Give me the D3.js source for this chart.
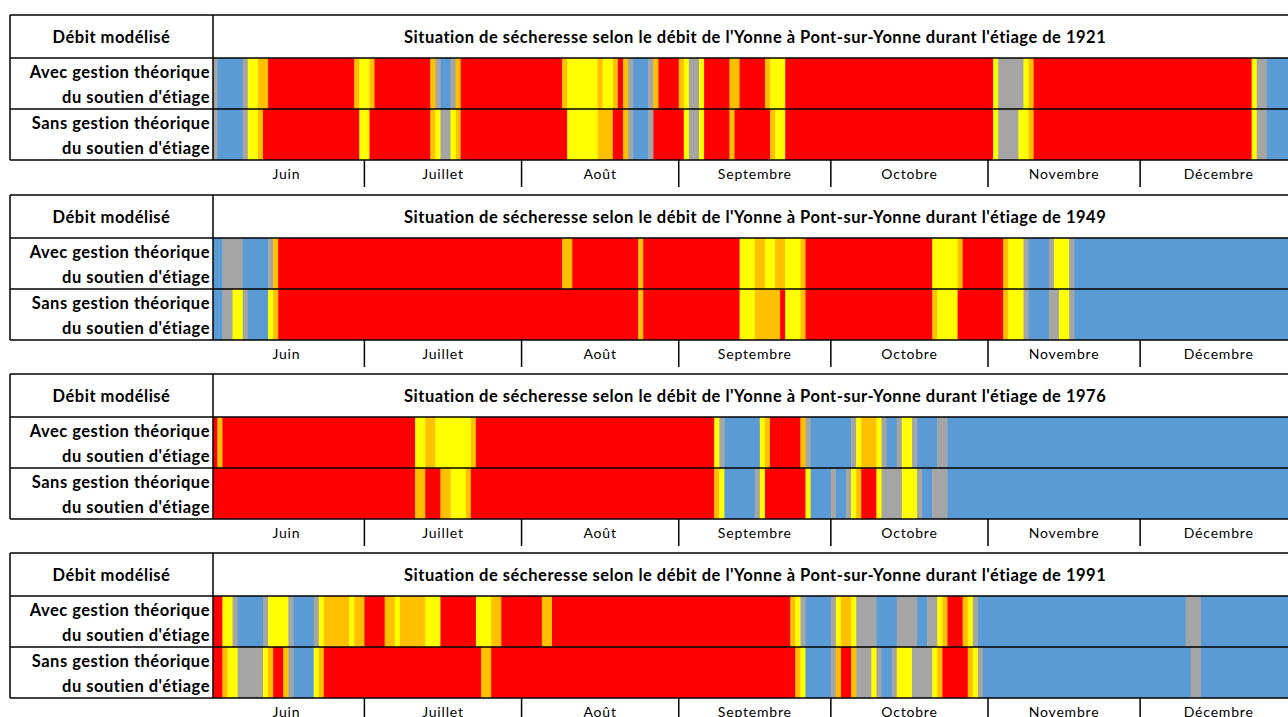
<!DOCTYPE html>
<html><head><meta charset="utf-8">
<script src="https://cdn.jsdelivr.net/npm/d3@7"></script>
<style>body{margin:0;background:#fff}svg{display:block}text{font-family:Lato,"Open Sans",sans-serif}</style>
</head><body><svg id="c" width="1288" height="717"></svg>
<script>
// ---- data ----
const categories = ["Normal","Vigilance","Alerte","Alerte renforcée","Crise"];
const categoryCodes = ["B","G","Y","O","R"];
const categoryColors = ["#5B9BD5","#A5A5A5","#FFFF00","#FFC000","#FF0000"];
const months = ["Juin","Juillet","Août","Septembre","Octobre","Novembre","Décembre"];
const monthDays = [30,31,31,30,31,30,31];
const years = [1921,1949,1976,1991];
const rowLabels = [["Avec gestion théorique","du soutien d'étiage"],["Sans gestion théorique","du soutien d'étiage"]];
// run-length daily status from 1 June (code + number of days)
const avec1921 = "G1 B5 G1 Y2 O2 R17 O1 Y2 O1 R11 O1 G1 B2 G1 O1 R20 O1 Y6 O1 Y2 O1 R1 O1 G1 B3 G1 O1 R4 O1 Y1 G2 Y1 R5 O2 R5 O1 Y3 R41 Y1 G5 Y1 O1 R43 Y1 G2 B6";
const sans1921 = "G1 B5 G1 Y2 O1 R19 Y2 R12 O1 Y1 G2 Y1 O1 R21 Y6 O3 R2 O1 G1 B3 G1 R6 Y1 G2 Y1 R5 O1 R7 O1 Y2 R41 Y1 G4 Y2 O1 R43 Y1 G2 B6";
const avec1949 = "B2 G4 B5 G1 O1 R56 O2 R13 O1 R19 Y3 O2 Y2 O2 Y3 O1 R25 Y5 O1 R8 O1 Y3 G1 B4 G1 Y3 G1 B44";
const sans1949 = "B2 G2 Y2 G1 B4 Y1 O1 R71 O1 R19 Y3 O5 R1 Y3 O1 R25 O1 Y4 R9 O1 Y3 G1 B4 G2 Y2 G1 B44";
const avec1976 = "R1 O1 R38 Y2 O2 Y7 O1 R47 Y1 G1 B7 Y1 O1 R6 O1 G1 B8 G1 Y1 O3 Y1 G1 B2 G1 Y2 G1 B4 G2 B69";
const sans1976 = "R40 O2 R3 O2 Y3 O1 R48 O1 Y1 B6 G1 Y1 R8 Y1 B4 G1 B2 G1 Y1 O1 R3 Y1 G4 Y3 G1 B2 G3 B69";
const avec1991 = "R2 Y2 G1 B5 G1 Y4 G1 B4 G1 Y1 O5 Y1 O2 R4 O2 Y1 O5 Y3 R7 Y3 O2 R8 O2 R47 O1 Y1 G1 B5 G1 Y1 O2 Y1 G4 B4 G4 B2 G2 Y1 O1 R3 O1 Y1 G1 B41 G3 B19";
const sans1991 = "R2 O1 Y2 G5 Y1 O1 R2 O1 G1 B4 Y1 O1 R31 O2 R60 O1 Y1 B5 G1 O1 R2 O1 G3 Y1 G1 B2 G1 Y3 G4 Y1 O1 R5 O1 Y1 G1 B41 G2 B19";
const series = {1921:[avec1921,sans1921],1949:[avec1949,sans1949],1976:[avec1976,sans1976],1991:[avec1991,sans1991]};

// ---- layout ----
const W = 1288;
const left = 10, labelRight = 213;
const dayStart = 212.3, dayW = 5.07;
const totalDays = d3.sum(monthDays);
const x = d3.scaleLinear().domain([0,totalDays]).range([dayStart, dayStart + totalDays*dayW]);
const color = d3.scaleOrdinal().domain(categoryCodes).range(categoryColors);
const panelTops = [15,195,374,553];
const headerH = 43, rowH = 51, axisH = 27;
const lineW = 1.5;
const fs = 16.5, ls = 0.5;
const svg = d3.select("#c");
svg.append("rect").attr("width",W).attr("height",717).attr("fill","#fff");
svg.append("defs").append("clipPath").attr("id","plotclip")
  .append("rect").attr("x",labelRight).attr("y",0).attr("width",W-labelRight).attr("height",717);

function parseRuns(s){
  let start = 0;
  return s.trim().split(/\s+/).map(t=>{
    const r = {code:t[0], start, len:+t.slice(1)};
    start += r.len; return r;
  });
}
const monthEnds = d3.cumsum(monthDays);
const monthStarts = [0, ...Array.from(monthEnds).slice(0,-1)];

years.forEach((yr,pi)=>{
  const top = panelTops[pi];
  const g = svg.append("g");
  // bars
  const bars = g.append("g").attr("clip-path","url(#plotclip)");
  series[yr].forEach((s,ri)=>{
    const y0 = top + headerH + ri*rowH;
    bars.selectAll(null).data(parseRuns(s)).join("rect")
      .attr("x",d=>x(d.start)).attr("width",d=>x(d.start+d.len)-x(d.start)+0.4)
      .attr("y",y0).attr("height",rowH)
      .attr("fill",d=>color(d.code));
    // row labels
    const t = g.append("text").attr("text-anchor","end").attr("font-weight","bold")
      .attr("font-size",fs).attr("letter-spacing",ls).attr("fill","#000");
    t.append("tspan").attr("x",labelRight-3).attr("y",y0+20).text(rowLabels[ri][0]);
    t.append("tspan").attr("x",labelRight-3).attr("y",y0+45).text(rowLabels[ri][1]);
  });
  // header texts
  g.append("text").attr("x",(left+labelRight)/2).attr("y",top+headerH/2+6).attr("text-anchor","middle")
    .attr("font-weight","bold").attr("font-size",fs).attr("letter-spacing",ls).text("Débit modélisé");
  g.append("text").attr("x",(labelRight+x(totalDays))/2).attr("y",top+headerH/2+6).attr("text-anchor","middle")
    .attr("font-weight","bold").attr("font-size",fs).attr("letter-spacing",ls)
    .text("Situation de sécheresse selon le débit de l'Yonne à Pont-sur-Yonne durant l'étiage de "+yr);
  // grid lines
  const bottom = top + headerH + 2*rowH;
  const L = g.append("g").attr("stroke","#000").attr("stroke-width",lineW);
  [top, top+headerH, top+headerH+rowH, bottom].forEach(yy=>{
    L.append("line").attr("x1",left).attr("x2",W).attr("y1",yy).attr("y2",yy);
  });
  L.append("line").attr("x1",left).attr("x2",left).attr("y1",top).attr("y2",bottom);
  L.append("line").attr("x1",labelRight).attr("x2",labelRight).attr("y1",top).attr("y2",bottom);
  // month axis
  const ax = g.append("g");
  ax.selectAll("line").data(Array.from(monthEnds).slice(0,-1)).join("line")
    .attr("x1",d=>x(d)).attr("x2",d=>x(d)).attr("y1",bottom).attr("y2",bottom+axisH)
    .attr("stroke","#000").attr("stroke-width",lineW);
  ax.selectAll("text").data(months).join("text")
    .attr("x",(d,i)=>(x(monthStarts[i])+x(monthEnds[i]))/2 + (i===0?-2:0))
    .attr("y",bottom+axisH/2+5)
    .attr("text-anchor","middle").attr("font-size",14).attr("letter-spacing",0.8)
    .text(d=>d);
});
</script></body></html>
